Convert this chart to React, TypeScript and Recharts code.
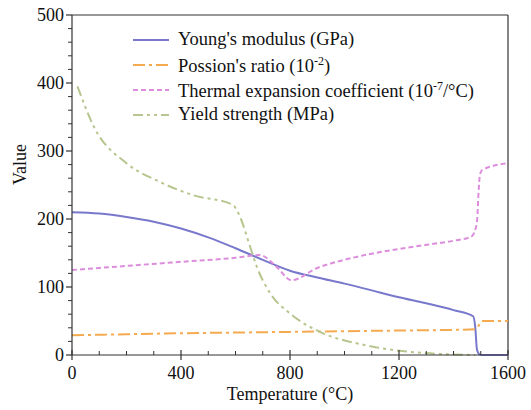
import { LineChart, Line, XAxis, YAxis, ReferenceLine, Legend } from 'recharts';

const FONT = '"Liberation Serif", "Times New Roman", serif';

const youngT = [0, 100, 200, 300, 400, 500, 600, 700, 800, 900, 1000, 1100, 1200, 1300, 1400, 1472, 1480, 1486, 1495, 1505, 1600];
const youngV = [210, 208, 203, 196, 186, 173, 157, 140, 124, 114, 105, 95, 85, 76, 66, 57, 40, 8, 1, 0, 0];

const poissonT = [0, 200, 400, 600, 800, 1000, 1200, 1400, 1480, 1492, 1505, 1600];
const poissonV = [29, 30.5, 32, 33, 34, 35, 36, 37, 38, 43, 50, 50];

const thermalT = [0, 200, 400, 600, 690, 750, 805, 900, 1000, 1100, 1200, 1300, 1400, 1465, 1478, 1487, 1492, 1497, 1505, 1600];
const thermalV = [125, 131, 137, 143, 147, 130, 110, 128, 140, 149, 156, 162, 168, 174, 182, 200, 240, 265, 272, 282];

const yieldT = [20, 80, 200, 320, 445, 590, 605, 620, 653, 678, 727, 800, 910, 1070, 1290, 1480];
const yieldV = [395, 336, 282, 255, 235, 221, 213, 200, 160, 130, 91, 61, 34, 15, 3, 0];

const xTicks = [0, 100, 200, 300, 400, 500, 600, 700, 800, 900, 1000, 1100, 1200, 1300, 1400, 1500, 1600];
const yTicks = [0, 20, 40, 60, 80, 100, 120, 140, 160, 180, 200, 220, 240, 260, 280, 300, 320, 340, 360, 380, 400, 420, 440, 460, 480, 500];

const toPts = (t: number[], v: number[]) => t.map((x, i) => ({ t: x, v: v[i] }));

const series = [
  { key: 'young', data: toPts(youngT, youngV), color: '#7878cc', dash: undefined, label: <>Young's modulus (GPa)</> },
  { key: 'poisson', data: toPts(poissonT, poissonV), color: '#f6aa50', dash: '12 4 3 4', label: <>Possion's ratio (10<sup style={{ fontSize: 12 }}>-2</sup>)</> },
  { key: 'thermal', data: toPts(thermalT, thermalV), color: '#dc8edc', dash: '5 3', label: <>Thermal expansion coefficient (10<sup style={{ fontSize: 12 }}>-7</sup>/°C)</> },
  { key: 'yield', data: toPts(yieldT, yieldV), color: '#b6c68e', dash: '10 4 3 4 3 4', label: <>Yield strength (MPa)</> },
];

const AXIS = '#333';

function XTick({ x, y, payload }: any) {
  const major = payload.value % 400 === 0;
  return (
    <g>
      {major
        ? <line x1={x} x2={x} y1={y - 5} y2={y + 5} stroke={AXIS} strokeWidth={1.2} />
        : <line x1={x} x2={x} y1={y - 4} y2={y} stroke={AXIS} strokeWidth={1} />}
      {major && (
        <text x={x} y={y + 24} textAnchor="middle" fontSize={18} fontFamily={FONT} fill="#111">{payload.value}</text>
      )}
    </g>
  );
}

function YTick({ x, y, payload }: any) {
  const major = payload.value % 100 === 0;
  return (
    <g>
      <line x1={x - (major ? 6 : 4)} x2={x} y1={y} y2={y} stroke={AXIS} strokeWidth={major ? 1.2 : 1} />
      {major && (
        <text x={x - 8} y={y + 6} textAnchor="end" fontSize={18} fontFamily={FONT} fill="#111">{payload.value}</text>
      )}
    </g>
  );
}

function LegendBox() {
  return (
    <div style={{ fontFamily: FONT, fontSize: 18.5, color: '#111' }}>
      {series.map(s => (
        <div key={s.key} style={{ display: 'flex', alignItems: 'center', height: 25, lineHeight: '25px', whiteSpace: 'nowrap' }}>
          <svg width={36} height={6} style={{ marginRight: 9 }}>
            <line x1={0} x2={36} y1={3} y2={3} stroke={s.color} strokeWidth={2} strokeDasharray={s.dash} />
          </svg>
          <span>{s.label}</span>
        </div>
      ))}
    </div>
  );
}

export default function App() {
  return (
    <div style={{ position: 'absolute', left: 0, top: 0, width: 531, height: 410, background: '#fff' }}>
      <LineChart width={531} height={410} margin={{ top: 15, right: 23, left: 0, bottom: 0 }}>
        <XAxis dataKey="t" type="number" domain={[0, 1600]} ticks={xTicks} interval={0} allowDuplicatedCategory={false}
          tickSize={0} tickMargin={0} tick={<XTick />} height={55} stroke={AXIS} strokeWidth={1.2}
          label={{ value: 'Temperature (°C)', position: 'insideBottom', offset: 10, fontSize: 18, fontFamily: FONT, fill: '#111' }} />
        <YAxis type="number" domain={[0, 500]} ticks={yTicks} interval={0} tickSize={0} tickMargin={0} tick={<YTick />}
          width={72} stroke={AXIS} strokeWidth={1.2}
          label={{ value: 'Value', angle: -90, position: 'insideLeft', offset: 20, fontSize: 18, fontFamily: FONT, fill: '#111' }} />
        <ReferenceLine y={500} stroke={AXIS} strokeWidth={1.2} />
        <ReferenceLine x={1600} stroke={AXIS} strokeWidth={1.2} />
        {series.map(s => (
          <Line key={s.key} data={s.data} dataKey="v" type="monotone" stroke={s.color} strokeWidth={2}
            strokeDasharray={s.dash} dot={false} isAnimationActive={false} />
        ))}
        <Legend layout="vertical" align="center" verticalAlign="middle" content={<LegendBox />}
          wrapperStyle={{ position: 'absolute', top: 27, left: 133, width: 'auto' }} />
      </LineChart>
    </div>
  );
}
